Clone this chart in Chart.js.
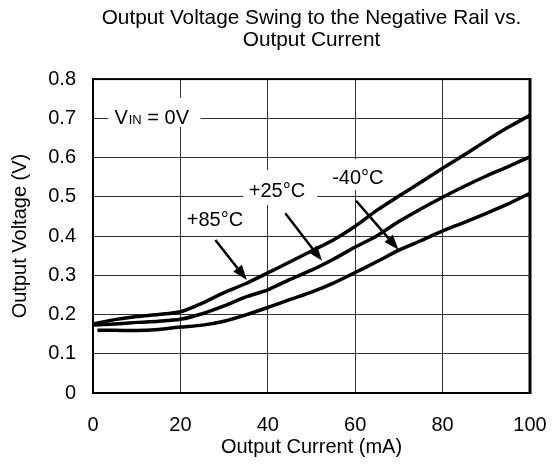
<!DOCTYPE html>
<html>
<head>
<meta charset="utf-8">
<script src="https://cdn.jsdelivr.net/npm/chart.js@4.4.1/dist/chart.umd.min.js"></script>
<style>
  html, body { margin: 0; padding: 0; background: #fff; }
  #wrap { width: 558px; height: 464px; }
</style>
</head>
<body>
<div id="wrap"><canvas id="myChart" width="558" height="464"></canvas></div>
<script>
// output current (mA)
var currents = [0, 5, 10, 15, 20, 25, 30, 35, 40, 45, 50, 55, 60, 65, 70, 75, 80, 85, 90, 95, 100];
var currentsCold = [1, 5, 10, 15, 20, 25, 30, 35, 40, 45, 50, 55, 60, 65, 70, 75, 80, 85, 90, 95, 100];

// output voltage (V)
var volts85 = [0.176, 0.187, 0.195, 0.200, 0.207, 0.229, 0.256, 0.279, 0.306, 0.334, 0.362, 0.390, 0.425, 0.466, 0.502, 0.537, 0.573, 0.607, 0.643, 0.677, 0.708];
var volts25 = [0.173, 0.176, 0.180, 0.183, 0.188, 0.202, 0.222, 0.245, 0.263, 0.289, 0.313, 0.341, 0.372, 0.401, 0.437, 0.469, 0.499, 0.527, 0.553, 0.577, 0.602];
var voltsM40 = [0.160, 0.160, 0.159, 0.162, 0.168, 0.173, 0.183, 0.199, 0.218, 0.238, 0.257, 0.280, 0.307, 0.335, 0.364, 0.388, 0.413, 0.435, 0.458, 0.482, 0.509];

var xTicks = [0, 20, 40, 60, 80, 100];
var yTicks = [0, 0.1, 0.2, 0.3, 0.4, 0.5, 0.6, 0.7, 0.8];

function toPoints(xs, ys) {
	var pts = [];
	for (var i = 0; i < xs.length; i++) {
		pts.push({ x: xs[i], y: ys[i] });
	}
	return pts;
}

var FONT = "Arial, 'Liberation Sans', sans-serif";

// labels and arrows, in data units
var labels = [
	{ text: '+85°C', x: 27.9, y: 0.44 },
	{ text: '+25°C', x: 42.1, y: 0.514 },
	{ text: '-40°C', x: 60.6, y: 0.547 }
];
var whiteBoxes = [
	[3.5, 0.752, 24.6, 0.678],
	[34.4, 0.568, 51.3, 0.479],
	[53.2, 0.596, 68.0, 0.517]
];
var arrows = [
	[28.0, 0.390, 35.2, 0.288],
	[44.0, 0.458, 52.4, 0.337],
	[60.2, 0.490, 69.9, 0.365]
];

var annotate = {
	id: 'annotate',
	beforeDatasetsDraw: function (chart) {
		var ctx = chart.ctx, xs = chart.scales.x, ys = chart.scales.y;
		ctx.save();
		ctx.fillStyle = '#fff';
		whiteBoxes.forEach(function (b) {
			var x0 = xs.getPixelForValue(b[0]), y0 = ys.getPixelForValue(b[1]);
			var x1 = xs.getPixelForValue(b[2]), y1 = ys.getPixelForValue(b[3]);
			ctx.fillRect(x0, y0, x1 - x0, y1 - y0);
		});
		ctx.restore();
	},
	afterDatasetsDraw: function (chart) {
		var ctx = chart.ctx, xs = chart.scales.x, ys = chart.scales.y;
		ctx.save();
		ctx.fillStyle = '#000';
		ctx.textAlign = 'center';
		ctx.textBaseline = 'middle';
		ctx.font = '20px ' + FONT;
		labels.forEach(function (l) {
			ctx.fillText(l.text, xs.getPixelForValue(l.x), ys.getPixelForValue(l.y));
		});

		// V_IN = 0V with subscript
		var vx = xs.getPixelForValue(4.9), vy = ys.getPixelForValue(0.685);
		ctx.textAlign = 'left';
		ctx.textBaseline = 'alphabetic';
		ctx.font = '20px ' + FONT;
		ctx.fillText('V', vx, vy);
		vx += ctx.measureText('V').width + 1;
		ctx.font = '13px ' + FONT;
		ctx.fillText('IN', vx, vy);
		vx += ctx.measureText('IN').width;
		ctx.font = '20px ' + FONT;
		ctx.fillText(' = 0V', vx, vy);

		// arrows
		ctx.strokeStyle = '#000';
		ctx.lineWidth = 2.5;
		arrows.forEach(function (a) {
			var x0 = xs.getPixelForValue(a[0]), y0 = ys.getPixelForValue(a[1]);
			var x1 = xs.getPixelForValue(a[2]), y1 = ys.getPixelForValue(a[3]);
			var ang = Math.atan2(y1 - y0, x1 - x0);
			var len = 15, half = 5.5;
			var bx = x1 - len * Math.cos(ang), by = y1 - len * Math.sin(ang);
			ctx.beginPath();
			ctx.moveTo(x0, y0);
			ctx.lineTo(bx, by);
			ctx.stroke();
			ctx.beginPath();
			ctx.moveTo(x1, y1);
			ctx.lineTo(bx + half * Math.sin(ang), by - half * Math.cos(ang));
			ctx.lineTo(bx - half * Math.sin(ang), by + half * Math.cos(ang));
			ctx.closePath();
			ctx.fill();
		});

		// frame
		var ca = chart.chartArea;
		ctx.lineWidth = 2;
		ctx.strokeRect(ca.left, ca.top, ca.right - ca.left, ca.bottom - ca.top);
		ctx.lineWidth = 3;
		ctx.beginPath();
		ctx.moveTo(ca.right, ca.top - 1);
		ctx.lineTo(ca.right, ca.bottom + 1);
		ctx.stroke();
		ctx.restore();
	}
};

function line(data) {
	return {
		data: data,
		showLine: true,
		borderColor: '#000',
		borderWidth: 3.5,
		pointRadius: 0,
		tension: 0.25,
		fill: false
	};
}

var ctx = document.getElementById('myChart');
var oChart = new Chart(ctx, {
	type: 'scatter',
	data: {
		datasets: [
			line(toPoints(currents, volts85)),
			line(toPoints(currents, volts25)),
			line(toPoints(currentsCold, voltsM40))
		]
	},
	options: {
		responsive: false,
		animation: false,
		devicePixelRatio: 1,
		layout: { padding: { left: 0, right: 28, top: 0, bottom: 0 } },
		plugins: {
			legend: { display: false },
			tooltip: { enabled: false },
			title: {
				display: true,
				fullSize: false,
				text: ['Output Voltage Swing to the Negative Rail vs.', 'Output Current'],
				color: '#000',
				font: { family: FONT, size: 20.8, weight: 'normal', lineHeight: 1.06 },
				padding: { top: 7, bottom: 28 }
			}
		},
		scales: {
			x: {
				type: 'linear',
				min: 0,
				max: 100,
				afterBuildTicks: function (scale) {
					scale.ticks = xTicks.map(function (v) { return { value: v }; });
				},
				afterFit: function (scale) {
					scale.height = 71;
					scale.paddingLeft = 0;
					scale.paddingRight = 0;
				},
				grid: { color: '#333', lineWidth: 1, drawTicks: false },
				border: { display: true, color: '#000', width: 2 },
				ticks: { color: '#000', padding: 20, font: { family: FONT, size: 20 } },
				title: {
					display: true,
					text: 'Output Current (mA)',
					color: '#000',
					font: { family: FONT, size: 20 },
					padding: { top: 0, bottom: 5 }
				}
			},
			y: {
				type: 'linear',
				min: 0,
				max: 0.8,
				afterBuildTicks: function (scale) {
					scale.ticks = yTicks.map(function (v) { return { value: v }; });
				},
				afterFit: function (scale) {
					scale.width = 93;
					scale.paddingTop = 0;
					scale.paddingBottom = 0;
				},
				grid: { color: '#333', lineWidth: 1, drawTicks: false },
				border: { display: true, color: '#000', width: 2 },
				ticks: {
					color: '#000',
					padding: 17,
					font: { family: FONT, size: 20 },
					callback: function (v) { return v === 0 ? '0' : v.toFixed(1); }
				},
				title: {
					display: true,
					text: 'Output Voltage (V)',
					color: '#000',
					font: { family: FONT, size: 20 },
					padding: { top: 8, bottom: 0 }
				}
			}
		}
	},
	plugins: [annotate]
});
</script>
</body>
</html>
